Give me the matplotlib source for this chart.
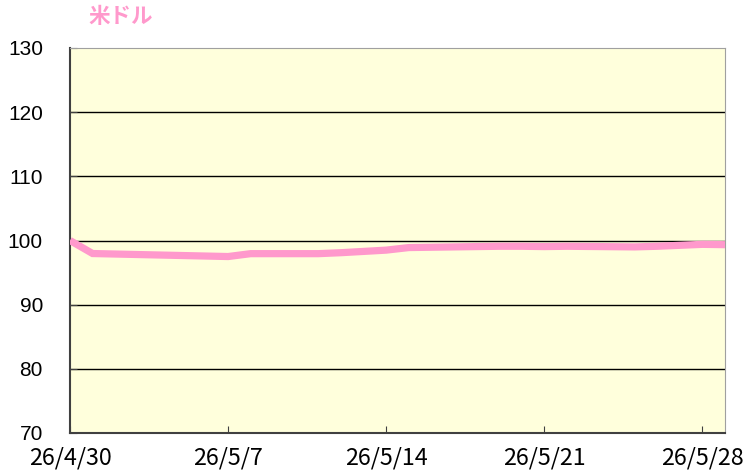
import matplotlib

matplotlib.use("Agg")
import matplotlib.pyplot as plt
import pandas as pd

# Japanese business days (Golden Week gap 5/2-5/6)
dates = [
    "2026-04-30", "2026-05-01", "2026-05-07", "2026-05-08",
    "2026-05-11", "2026-05-12", "2026-05-13", "2026-05-14", "2026-05-15",
    "2026-05-18", "2026-05-19", "2026-05-20", "2026-05-21", "2026-05-22",
    "2026-05-25", "2026-05-26", "2026-05-27", "2026-05-28", "2026-05-29",
]
values = [
    100.0, 97.97, 97.5, 97.95,
    97.95, 98.1, 98.3, 98.5, 98.9,
    99.05, 99.1, 99.1, 99.05, 99.1,
    99.0, 99.1, 99.25, 99.4, 99.35,
]
tick_dates = ["2026-04-30", "2026-05-07", "2026-05-14", "2026-05-21", "2026-05-28"]
tick_labels = ["26/4/30", "26/5/7", "26/5/14", "26/5/21", "26/5/28"]
y_ticks = [70, 80, 90, 100, 110, 120, 130]
unit_label = "米ドル"

x = pd.to_datetime(dates)
pink = "#ff99cc"

fig = plt.figure(figsize=(7.44, 4.75), dpi=100)
ax = fig.add_axes([70 / 744, 42 / 475, 655 / 744, 385 / 475])
ax.set_facecolor("#ffffdc")

for y in y_ticks[1:-1]:
    ax.axhline(y, color="black", lw=1.0, zorder=1)

ax.plot(x, values, color=pink, lw=5.2, solid_joinstyle="miter",
        solid_capstyle="butt", zorder=3)

ax.set_xlim(pd.Timestamp("2026-04-30"), pd.Timestamp("2026-05-29"))
ax.set_ylim(70, 130)
ax.set_yticks(y_ticks)
ax.set_yticklabels([str(v) for v in y_ticks], family="Liberation Sans", fontsize=15)
ax.set_xticks(pd.to_datetime(tick_dates))
ax.set_xticklabels(tick_labels, family="Noto Sans CJK JP", fontsize=16.8)

ax.tick_params(axis="x", direction="in", length=5, pad=10, color="#404040")
ax.tick_params(axis="y", direction="in", length=5, pad=19.5, color="#404040")

ax.spines["left"].set_color("#404040")
ax.spines["bottom"].set_color("#404040")
ax.spines["left"].set_linewidth(1.5)
ax.spines["bottom"].set_linewidth(1.5)
ax.spines["top"].set_color("#a0a0a0")
ax.spines["right"].set_color("#a0a0a0")

fig.text(88 / 744, 1 - 16.5 / 475, unit_label, color=pink, fontsize=15.5,
         fontweight="bold", family="Noto Sans CJK JP", va="center", ha="left")

fig.savefig("out.png", dpi=100)
plt.close(fig)
